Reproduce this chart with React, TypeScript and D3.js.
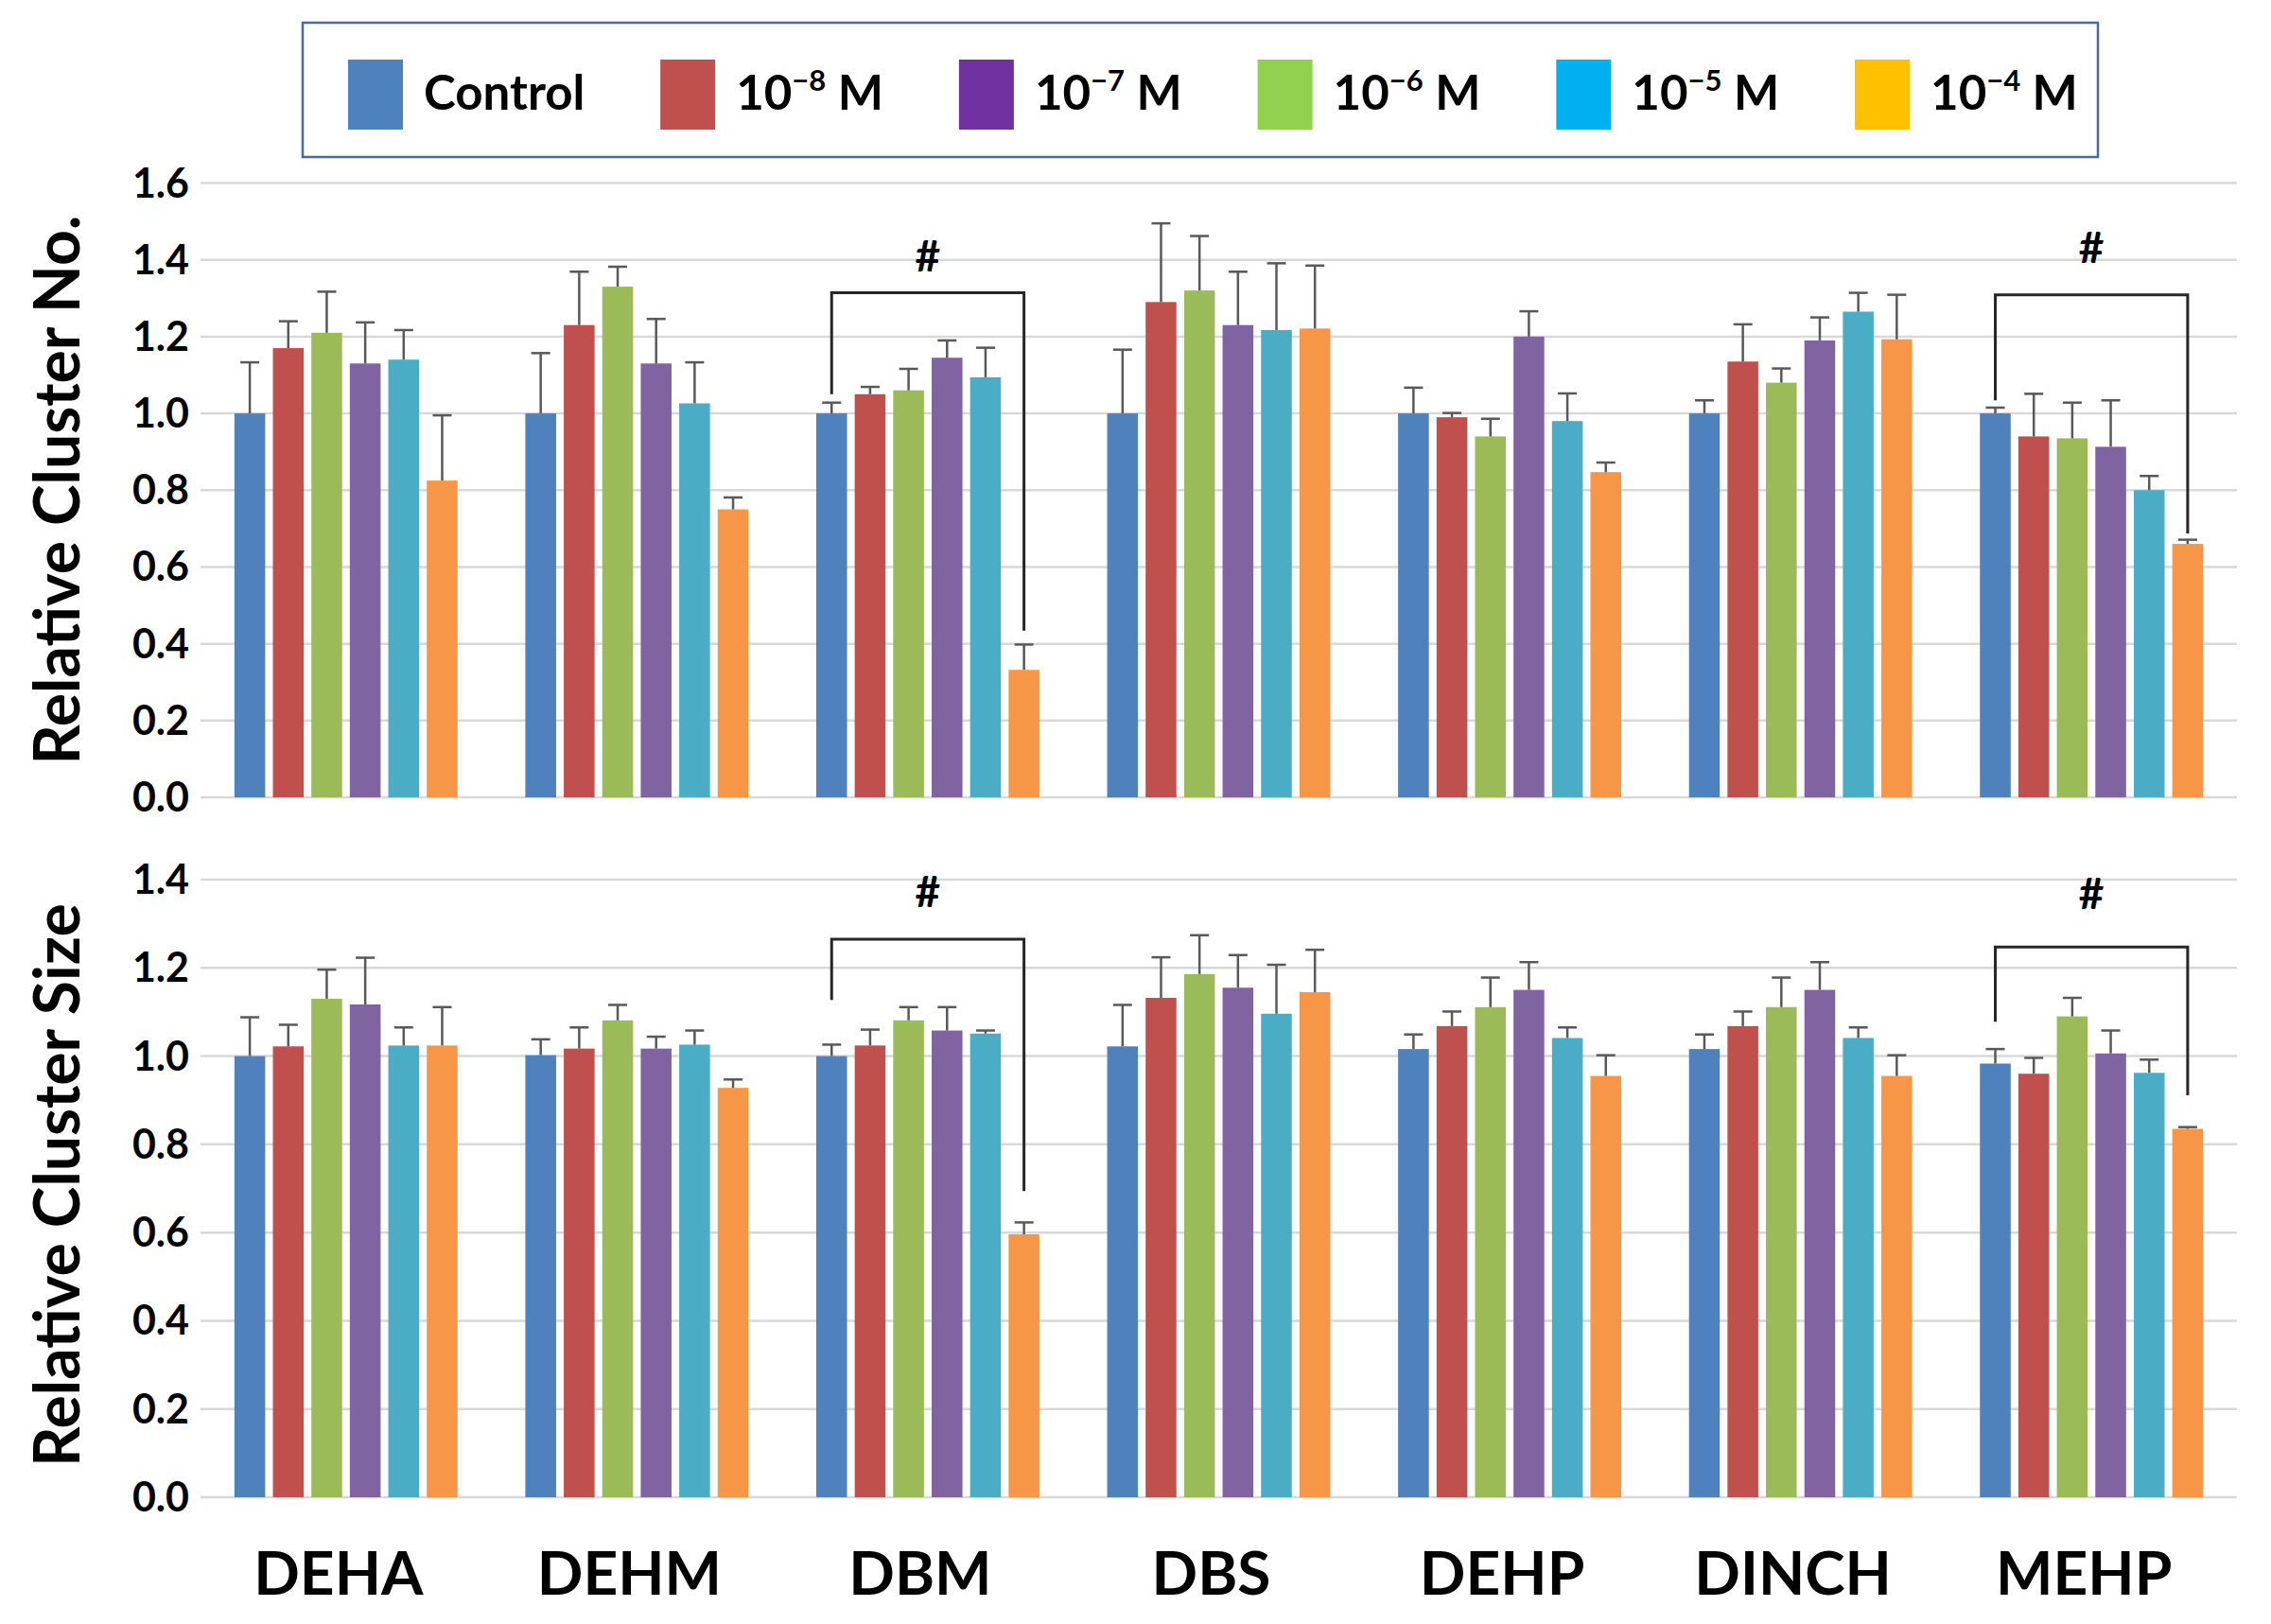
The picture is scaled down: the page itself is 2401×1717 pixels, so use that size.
import { useEffect, useRef } from 'react';
import * as d3 from 'd3';

// chemicals on the x axis
const categories = ['DEHA', 'DEHM', 'DBM', 'DBS', 'DEHP', 'DINCH', 'MEHP'];
const doseKeys = ['ctrl', 'e8', 'e7', 'e6', 'e5', 'e4'];

// bar colours (in bar order) and the legend's own colours
const barColors = ['#4F81BD', '#C0504D', '#9BBB59', '#8064A2', '#4BACC6', '#F79646'];
const legendColors = ['#4F81BD', '#C0504D', '#7030A0', '#92D050', '#00B0F0', '#FFC000'];
const legendBase = ['Control', '10', '10', '10', '10', '10'];
const legendExp = ['', '−8', '−7', '−6', '−5', '−4'];

// Relative Cluster No. (means, one array per dose, over categories)
const noCtrl = [1.0, 1.0, 1.0, 1.0, 1.0, 1.0, 1.0];
const noE8 = [1.17, 1.23, 1.05, 1.29, 0.99, 1.135, 0.94];
const noE7 = [1.21, 1.33, 1.06, 1.32, 0.94, 1.08, 0.935];
const noE6 = [1.13, 1.13, 1.145, 1.23, 1.2, 1.19, 0.913];
const noE5 = [1.14, 1.026, 1.094, 1.217, 0.98, 1.265, 0.8];
const noE4 = [0.825, 0.75, 0.332, 1.221, 0.847, 1.193, 0.66];
// upper error bars
const noErrCtrl = [0.133, 0.157, 0.028, 0.166, 0.067, 0.034, 0.015];
const noErrE8 = [0.07, 0.139, 0.019, 0.205, 0.011, 0.097, 0.111];
const noErrE7 = [0.107, 0.052, 0.056, 0.142, 0.046, 0.037, 0.093];
const noErrE6 = [0.107, 0.116, 0.045, 0.139, 0.066, 0.06, 0.121];
const noErrE5 = [0.077, 0.107, 0.077, 0.174, 0.072, 0.049, 0.037];
const noErrE4 = [0.17, 0.031, 0.066, 0.164, 0.025, 0.116, 0.011];

// Relative Cluster Size
const sizeCtrl = [1.0, 1.002, 1.0, 1.022, 1.016, 1.016, 0.983];
const sizeE8 = [1.022, 1.017, 1.024, 1.132, 1.068, 1.068, 0.96];
const sizeE7 = [1.13, 1.081, 1.081, 1.186, 1.111, 1.111, 1.09];
const sizeE6 = [1.117, 1.017, 1.058, 1.155, 1.15, 1.15, 1.006];
const sizeE5 = [1.024, 1.026, 1.051, 1.096, 1.041, 1.041, 0.962];
const sizeE4 = [1.024, 0.928, 0.596, 1.145, 0.955, 0.955, 0.835];
const sizeErrCtrl = [0.088, 0.036, 0.026, 0.094, 0.033, 0.033, 0.033];
const sizeErrE8 = [0.049, 0.048, 0.036, 0.092, 0.033, 0.033, 0.036];
const sizeErrE7 = [0.066, 0.035, 0.03, 0.088, 0.067, 0.067, 0.042];
const sizeErrE6 = [0.106, 0.027, 0.053, 0.074, 0.063, 0.063, 0.052];
const sizeErrE5 = [0.041, 0.032, 0.007, 0.111, 0.024, 0.024, 0.03];
const sizeErrE4 = [0.087, 0.019, 0.027, 0.096, 0.047, 0.047, 0.004];

// significance brackets: [category, top, left leg end, right leg end, label level]
const noBrackets: [string, number, number, number, number][] = [
  ['DBM', 1.314, 1.05, 0.434, 1.408],
  ['MEHP', 1.309, 1.034, 0.687, 1.432],
];
const sizeBrackets: [string, number, number, number, number][] = [
  ['DBM', 1.265, 1.127, 0.694, 1.373],
  ['MEHP', 1.247, 1.078, 0.911, 1.368],
];

const FONT = "Lato, 'Open Sans', sans-serif";

export default function App() {
  const svgRef = useRef<SVGSVGElement | null>(null);

  useEffect(() => {
    if (!svgRef.current) return;
    const svg = d3.select(svgRef.current);
    svg.selectAll('*').remove();

    const x0 = d3
      .scaleBand<string>()
      .domain(categories)
      .range([212, 2365])
      .paddingInner(0.233)
      .paddingOuter(0.1165);
    const x1 = d3
      .scaleBand<string>()
      .domain(doseKeys)
      .range([0, x0.bandwidth()])
      .paddingInner(0.2);
    const bw = x1.bandwidth();

    const panels = [
      {
        title: 'Relative Cluster No.',
        means: [noCtrl, noE8, noE7, noE6, noE5, noE4],
        errs: [noErrCtrl, noErrE8, noErrE7, noErrE6, noErrE5, noErrE4],
        max: 1.6,
        y: d3.scaleLinear().domain([0, 1.6]).range([843, 193.5]),
        brackets: noBrackets,
        titleY: 518,
      },
      {
        title: 'Relative Cluster Size',
        means: [sizeCtrl, sizeE8, sizeE7, sizeE6, sizeE5, sizeE4],
        errs: [sizeErrCtrl, sizeErrE8, sizeErrE7, sizeErrE6, sizeErrE5, sizeErrE4],
        max: 1.4,
        y: d3.scaleLinear().domain([0, 1.4]).range([1583, 930]),
        brackets: sizeBrackets,
        titleY: 1253,
      },
    ];

    panels.forEach((p) => {
      const g = svg.append('g');
      const ticks = d3.range(0, p.max + 1e-9, 0.2);

      // gridlines
      g.selectAll('line.grid')
        .data(ticks)
        .join('line')
        .attr('x1', 212)
        .attr('x2', 2365)
        .attr('y1', (d) => p.y(d))
        .attr('y2', (d) => p.y(d))
        .attr('stroke', '#D9D9D9')
        .attr('stroke-width', 2.5);

      // tick labels
      g.selectAll('text.tick')
        .data(ticks)
        .join('text')
        .attr('x', 200)
        .attr('y', (d) => p.y(d) + 15)
        .attr('text-anchor', 'end')
        .attr('font-family', FONT)
        .attr('font-weight', 'bold')
        .attr('font-size', 43)
        .attr('fill', '#000')
        .text((d) => d3.format('.1f')(d));

      // bars and error bars
      doseKeys.forEach((k, j) => {
        const rows = categories.map((c, i) => ({
          c,
          v: p.means[j][i],
          e: p.errs[j][i],
        }));
        g.append('g')
          .selectAll('rect')
          .data(rows)
          .join('rect')
          .attr('x', (d) => (x0(d.c) as number) + (x1(k) as number))
          .attr('y', (d) => p.y(d.v))
          .attr('width', bw)
          .attr('height', (d) => p.y(0) - p.y(d.v))
          .attr('fill', barColors[j]);

        const eg = g.append('g').attr('stroke', '#595959').attr('stroke-width', 2.5);
        rows.forEach((d) => {
          const cx = (x0(d.c) as number) + (x1(k) as number) + bw / 2;
          eg.append('line')
            .attr('x1', cx)
            .attr('x2', cx)
            .attr('y1', p.y(d.v))
            .attr('y2', p.y(d.v + d.e));
          eg.append('line')
            .attr('x1', cx - 10)
            .attr('x2', cx + 10)
            .attr('y1', p.y(d.v + d.e))
            .attr('y2', p.y(d.v + d.e));
        });
      });

      // significance brackets
      p.brackets.forEach(([cat, top, left, right, lab]) => {
        const xl = (x0(cat) as number) + (x1('ctrl') as number) + bw / 2;
        const xr = (x0(cat) as number) + (x1('e4') as number) + bw / 2;
        g.append('path')
          .attr('d', `M${xl},${p.y(left)}V${p.y(top)}H${xr}V${p.y(right)}`)
          .attr('fill', 'none')
          .attr('stroke', '#262626')
          .attr('stroke-width', 3);
        g.append('text')
          .attr('x', (xl + xr) / 2)
          .attr('y', p.y(lab) + 16)
          .attr('text-anchor', 'middle')
          .attr('font-family', FONT)
          .attr('font-weight', 'bold')
          .attr('font-size', 46)
          .text('#');
      });

      // y axis title
      g.append('text')
        .attr('transform', `translate(84,${p.titleY}) rotate(-90)`)
        .attr('text-anchor', 'middle')
        .attr('font-family', FONT)
        .attr('font-weight', 'bold')
        .attr('font-size', 66)
        .text(p.title);
    });

    // category labels
    svg
      .append('g')
      .selectAll('text')
      .data(categories)
      .join('text')
      .attr('x', (d) => (x0(d) as number) + x0.bandwidth() / 2 - 8)
      .attr('y', 1686)
      .attr('text-anchor', 'middle')
      .attr('font-family', FONT)
      .attr('font-weight', 'bold')
      .attr('font-size', 64)
      .text((d) => d);

    // legend
    const lg = svg.append('g');
    lg.append('rect')
      .attr('x', 320)
      .attr('y', 24)
      .attr('width', 1898)
      .attr('height', 142)
      .attr('fill', '#fff')
      .attr('stroke', '#4A6A9A')
      .attr('stroke-width', 2.5);
    let lx = 368;
    legendBase.forEach((b, i) => {
      lg.append('rect')
        .attr('x', lx)
        .attr('y', 63)
        .attr('width', 58)
        .attr('height', 74)
        .attr('fill', legendColors[i]);
      const t = lg
        .append('text')
        .attr('x', lx + 80)
        .attr('y', 116)
        .attr('font-family', FONT)
        .attr('font-weight', 'bold')
        .attr('font-size', 51);
      t.append('tspan').text(b);
      if (legendExp[i]) {
        t.append('tspan')
          .attr('font-size', 31)
          .attr('dy', -20)
          .text(legendExp[i]);
        t.append('tspan').attr('dy', 20).text('\u00a0M');
      }
      const len = (t.node() as SVGTextElement).getComputedTextLength();
      lx = lx + 80 + len + 80;
    });
  }, []);

  return (
    <div style={{ position: 'absolute', left: 0, top: 0 }}>
      <svg ref={svgRef} width={2401} height={1717} style={{ background: '#fff', display: 'block' }} />
    </div>
  );
}
